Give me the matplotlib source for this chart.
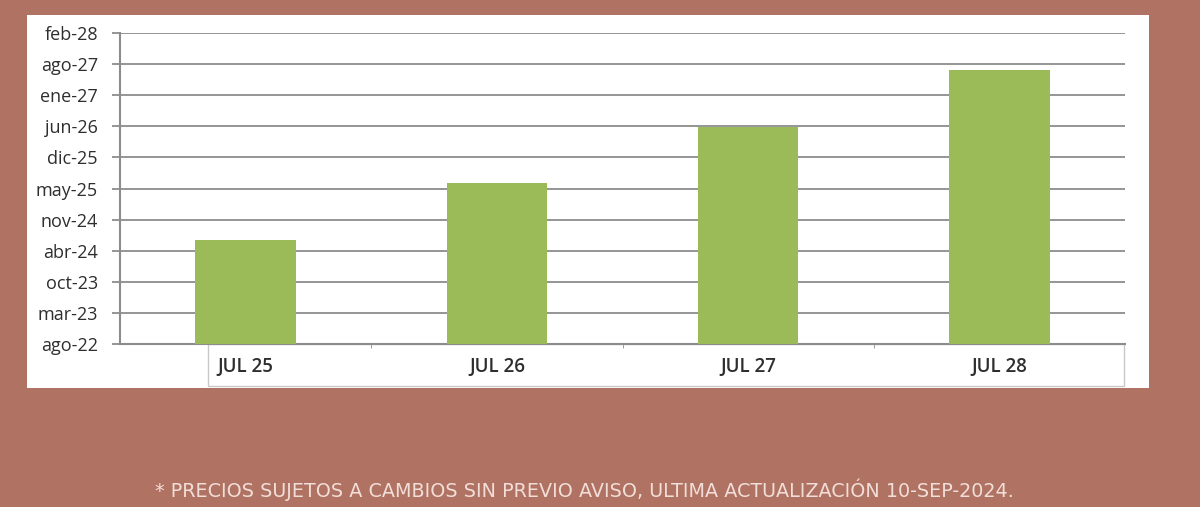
import matplotlib
matplotlib.use("Agg")
import matplotlib.pyplot as plt
import matplotlib.dates as mdates
from matplotlib.patches import Rectangle
from matplotlib.ticker import FixedLocator, FuncFormatter
import datetime as dt

# data
categories = ["JUL 25", "JUL 26", "JUL 27", "JUL 28"]
fechas = ["2024-06-26", "2025-06-25", "2026-06-25", "2027-06-24"]
eje_inicio = "2022-08-27"
eje_paso_dias = 200
eje_n_pasos = 10
meses = ["ene", "feb", "mar", "abr", "may", "jun",
         "jul", "ago", "sep", "oct", "nov", "dic"]
nota = "* PRECIOS SUJETOS A CAMBIOS SIN PREVIO AVISO, ULTIMA ACTUALIZACIÓN 10-SEP-2024."

bg = "#B07262"
green = "#9BBB59"
grid_c = "#8C8C8C"
txt = "#2E2E2E"

plt.rcParams['font.family'] = ['Open Sans', 'DejaVu Sans']

fig = plt.figure(figsize=(12, 5.07), dpi=100)
fig.patch.set_facecolor(bg)

# white panel
fig.patches.append(Rectangle((27/1200, 1-388/507), 1122/1200, 373/507,
                             transform=fig.transFigure, facecolor="white",
                             edgecolor="none", zorder=0))
# label box under the axis
fig.patches.append(Rectangle((208/1200, 1-386/507), 916/1200, 42/507,
                             transform=fig.transFigure, facecolor="none",
                             edgecolor="#C8C8C8", lw=1, zorder=1))

ax = fig.add_axes([120/1200, 1-344/507, 1005/1200, 311/507])
ax.set_zorder(3)
ax.set_facecolor("none")

base = mdates.date2num(dt.date.fromisoformat(eje_inicio))
vals = [mdates.date2num(dt.date.fromisoformat(f)) for f in fechas]
x = range(len(categories))

ax.bar(x, [v - base for v in vals], bottom=base, width=0.4,
       color=green, zorder=3)

ticks = [base + eje_paso_dias * k for k in range(eje_n_pasos + 1)]
ax.set_ylim(ticks[0], ticks[-1])
ax.set_xlim(-0.5, len(categories) - 0.5)
ax.yaxis.set_major_locator(FixedLocator(ticks))

def fmt_fecha(v, pos):
    d = mdates.num2date(v)
    return f"{meses[d.month - 1]}-{d.year % 100:02d}"

ax.yaxis.set_major_formatter(FuncFormatter(fmt_fecha))
ax.grid(axis="y", color=grid_c, lw=1.3, zorder=1)
ax.set_axisbelow(True)

ax.set_xticks(list(x))
ax.set_xticklabels(categories, fontsize=13.5, fontweight="semibold", color=txt)
ax.set_xticks([0.5, 1.5, 2.5], minor=True)
ax.tick_params(axis="x", which="major", length=0, pad=9)
ax.tick_params(axis="x", which="minor", length=3, color=grid_c, direction="out")
ax.tick_params(axis="y", length=6, color=grid_c, width=1.3, labelsize=13,
               labelcolor=txt, pad=10)

for s in ["top", "right"]:
    ax.spines[s].set_visible(False)
ax.spines["left"].set_color(grid_c)
ax.spines["left"].set_linewidth(1.5)
ax.spines["bottom"].set_color(grid_c)
ax.spines["bottom"].set_linewidth(1.5)

fig.text(584/1200, 1-490/507, nota, ha="center", va="center",
         fontsize=13.8, color="#F2DED8", family="DejaVu Sans")

fig.savefig("out.png", dpi=100, facecolor=bg)
